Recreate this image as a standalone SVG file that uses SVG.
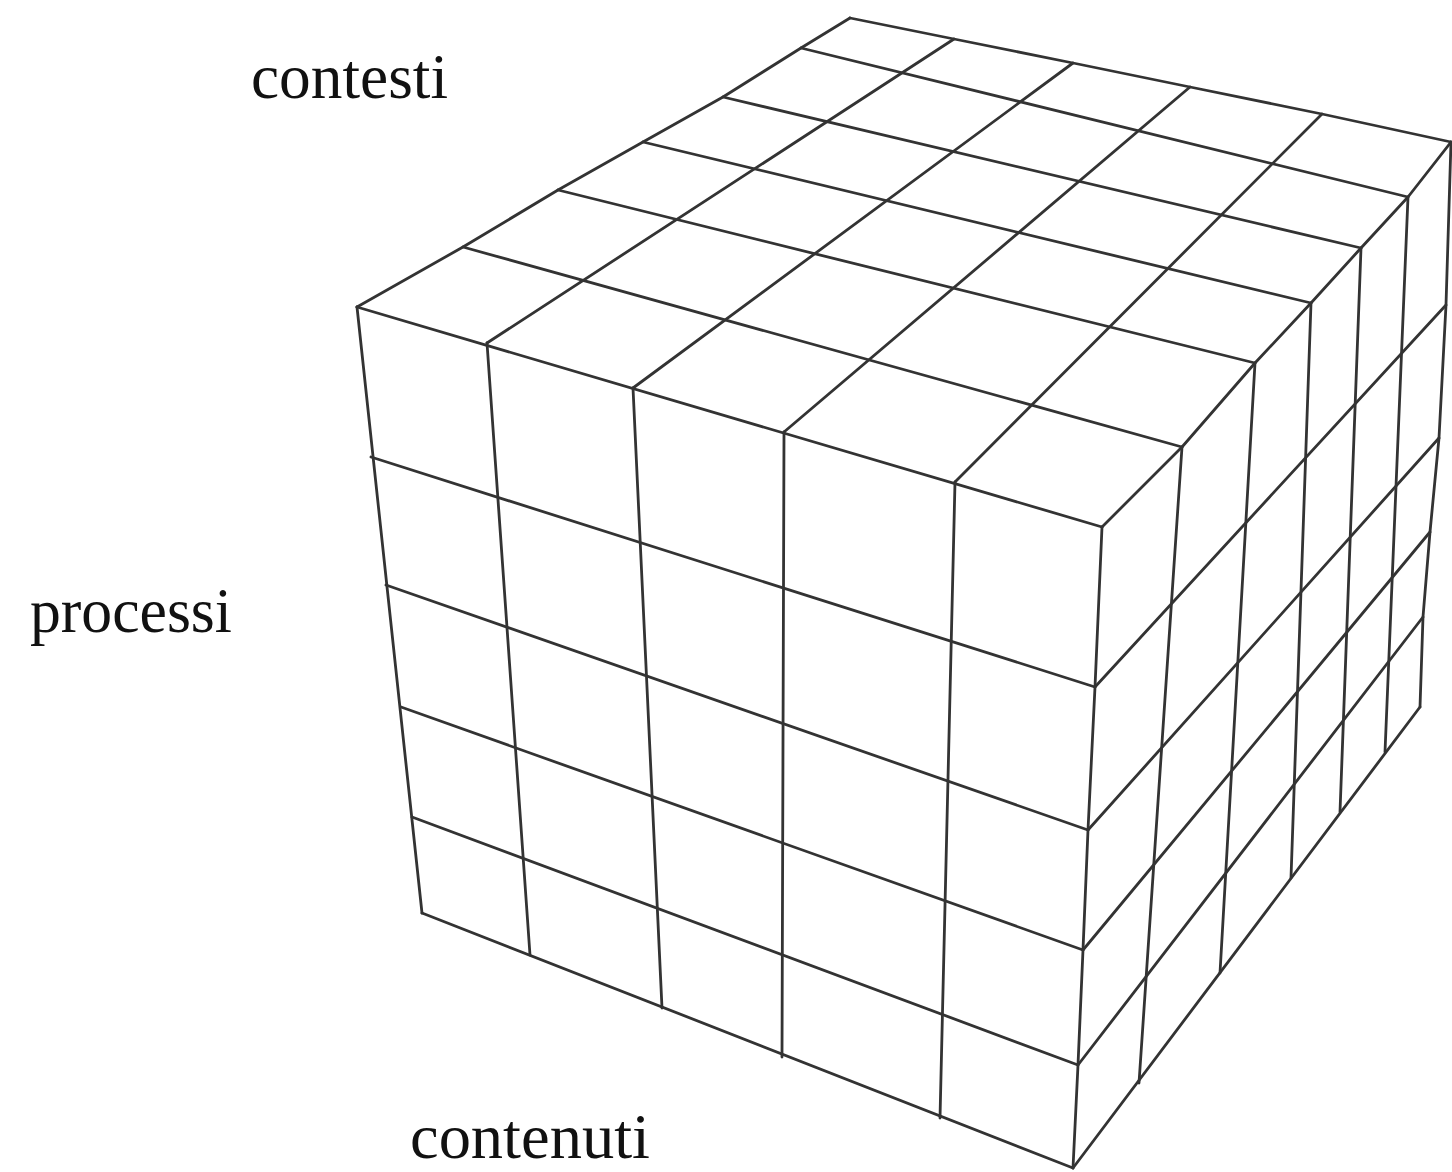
<svg xmlns="http://www.w3.org/2000/svg" width="1452" height="1172" viewBox="0 0 1452 1172">
<style>
.g line,.g polyline{stroke:#333;stroke-width:2.8;fill:none;stroke-linecap:round;stroke-linejoin:round}
.lbl{font-family:"Liberation Serif","Times New Roman",serif;font-size:63px;fill:#111}
</style>
<rect width="1452" height="1172" fill="#fff"/>
<g id="top-face" class="g">
<polyline points="357,307 463,247 558,190 643,142 723,97 801,48 850,18"/>
<polyline points="850,18 954,39 1073,63 1190,87 1322,114 1451,142"/>
<polyline points="1102,527 1182,447 1255,363 1311,303 1361,248 1408,197 1451,142"/>
<line x1="463" y1="247" x2="1182" y2="447"/>
<line x1="558" y1="190" x2="1255" y2="363"/>
<line x1="643" y1="142" x2="1311" y2="303"/>
<line x1="723" y1="97" x2="1361" y2="248"/>
<line x1="801" y1="48" x2="1408" y2="197"/>
<line x1="487" y1="343" x2="954" y2="39"/>
<line x1="633" y1="388" x2="1073" y2="63"/>
<line x1="784" y1="432" x2="1190" y2="87"/>
<line x1="955" y1="482" x2="1322" y2="114"/>
</g>
<g id="front-face" class="g">
<line x1="357" y1="307" x2="1102" y2="527"/>
<line x1="371" y1="457" x2="1095" y2="687"/>
<line x1="386" y1="585" x2="1088" y2="830"/>
<line x1="401" y1="707" x2="1083" y2="950"/>
<line x1="412" y1="817" x2="1078" y2="1065"/>
<line x1="422" y1="913" x2="1073" y2="1168"/>
<line x1="357" y1="307" x2="422" y2="913"/>
<line x1="487" y1="343" x2="530" y2="955"/>
<line x1="633" y1="388" x2="662" y2="1008"/>
<line x1="784" y1="432" x2="782" y2="1057"/>
<line x1="955" y1="482" x2="940" y2="1118"/>
<polyline points="1102,527 1095,687 1088,830 1083,950 1078,1065 1073,1168"/>
</g>
<g id="right-face" class="g">
<line x1="1182" y1="447" x2="1139" y2="1083"/>
<line x1="1255" y1="363" x2="1220" y2="973"/>
<line x1="1311" y1="303" x2="1291" y2="878"/>
<line x1="1361" y1="248" x2="1340" y2="812"/>
<line x1="1408" y1="197" x2="1385" y2="752"/>
<polyline points="1451,142 1446,305 1439,438 1430,532 1423,617 1420,707"/>
<line x1="1095" y1="687" x2="1446" y2="305"/>
<line x1="1088" y1="830" x2="1439" y2="438"/>
<line x1="1083" y1="950" x2="1430" y2="532"/>
<line x1="1078" y1="1065" x2="1423" y2="617"/>
<line x1="1073" y1="1168" x2="1420" y2="707"/>
</g>
<g id="labels">
<text class="lbl" x="251" y="98" textLength="197" lengthAdjust="spacingAndGlyphs">contesti</text>
<text class="lbl" x="30" y="632" textLength="202" lengthAdjust="spacingAndGlyphs">processi</text>
<text class="lbl" x="410" y="1158" textLength="240" lengthAdjust="spacingAndGlyphs">contenuti</text>
</g>
</svg>
